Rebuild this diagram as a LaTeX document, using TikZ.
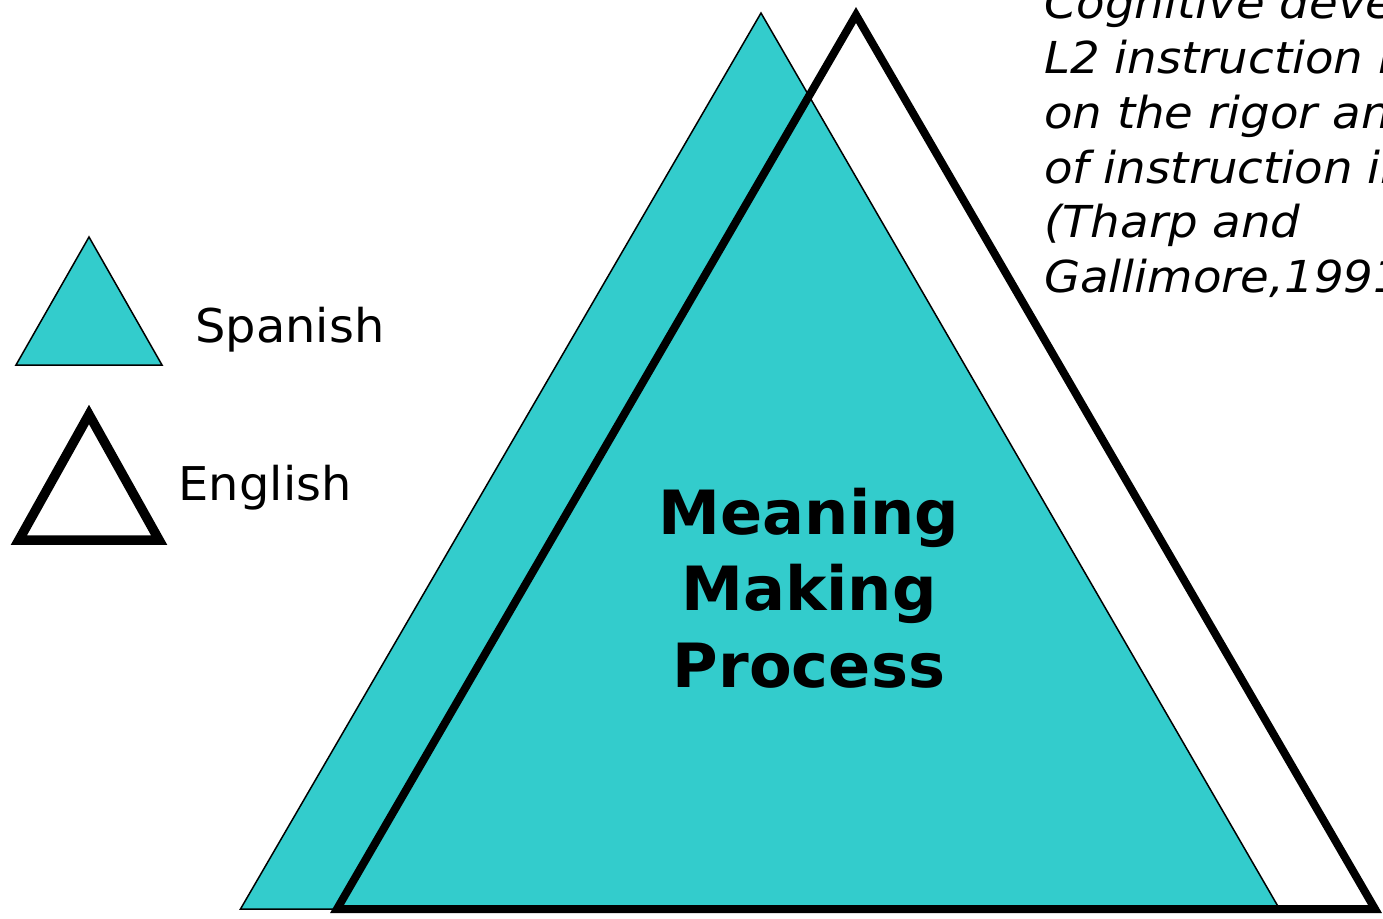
\documentclass[tikz,border=0pt]{standalone}
\usepackage{fontspec}
\setmainfont{DejaVu Sans}
\newfontfamily\legendfont{DejaVu Sans}[FakeStretch=1.03]
\newfontfamily\boldfont{DejaVu Sans}[FakeStretch=1.02]
\newfontfamily\citefont{DejaVu Sans}[FakeStretch=1.06]
\definecolor{teal}{RGB}{51,204,204}
\tikzset{
  spanishtri/.style={fill=teal, draw=black, line width=1.5pt, line join=miter},
  englishtri/.style={draw=black, line width=8pt, line join=miter},
  legendlabel/.style={anchor=base west, inner sep=0pt, font=\legendfont\fontsize{46.5}{56}\selectfont},
  maintext/.style={anchor=base, inner sep=0pt, font=\boldfont\fontsize{61}{76}\selectfont\bfseries},
  citetext/.style={anchor=base west, inner sep=0pt, font=\citefont\fontsize{44}{55}\selectfont\itshape}
}
\begin{document}
\begin{tikzpicture}[x=1pt, y=-1pt]
\useasboundingbox (0,0) rectangle (1383,918);
\clip (0,0) rectangle (1383,918);
\fill[white] (0,0) rectangle (1383,918);

% legend
\draw[spanishtri] (89,237) -- (162,365) -- (16,365) -- cycle;
\draw[englishtri, line width=9.5pt] (89,414.5) -- (159.2,540.2) -- (18.8,540.2) -- cycle;
\node[legendlabel] (spanish) at (195,342) {Spanish};
\node[legendlabel] (english) at (178.5,500) {English};

% big triangles
\draw[spanishtri] (761,13) -- (1279.5,909) -- (240.5,909) -- cycle;
\draw[englishtri] (856,15) -- (1375,909) -- (337,909) -- cycle;

% main label
\node[maintext] (meaning) at (809,534) {Meaning};
\node[maintext] (making) at (809,610) {Making};
\node[maintext] (process) at (809,687) {Process};

% citation
\node[citetext] (cite1) at (1044,18.5) {Cognitive development in};
\node[citetext] (cite2) at (1044,73) {L2 instruction is based};
\node[citetext] (cite3) at (1044,128) {on the rigor and quality};
\node[citetext] (cite4) at (1044,183) {of instruction in L1};
\node[citetext] (cite5) at (1044,237.5) {(Tharp and};
\node[citetext] (cite6) at (1044,292) {Gallimore,1991)};
\end{tikzpicture}
\end{document}
